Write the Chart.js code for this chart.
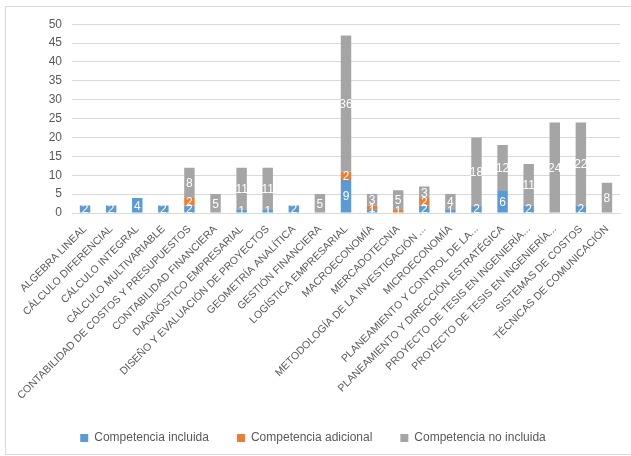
<!DOCTYPE html>
<html>
<head>
<meta charset="utf-8">
<script src="https://cdn.jsdelivr.net/npm/chart.js@4/dist/chart.umd.min.js"></script>
<style>
  body { margin: 0; background: #fff; }
  #box { position: absolute; left: 5px; top: 6px; width: 630px; height: 447px; border: 1px solid #d9d9d9; }
</style>
</head>
<body>
<div id="box"><canvas id="compChart" width="630" height="447"></canvas></div>
<script>
var cursos = ["ALGEBRA LINEAL", "CÁLCULO DIFERENCIAL", "CÁLCULO INTEGRAL", "CÁLCULO MULTIVARIABLE",
  "CONTABILIDAD DE COSTOS Y PRESUPUESTOS", "CONTABILIDAD FINANCIERA", "DIAGNÓSTICO EMPRESARIAL",
  "DISEÑO Y EVALUACIÓN DE PROYECTOS", "GEOMETRÍA ANALÍTICA", "GESTIÓN FINANCIERA", "LOGÍSTICA EMPRESARIAL",
  "MACROECONOMÍA", "MERCADOTECNIA", "METODOLOGÍA DE LA INVESTIGACIÓN ...", "MICROECONOMÍA",
  "PLANEAMIENTO Y CONTROL DE LA...", "PLANEAMIENTO Y DIRECCIÓN ESTRATÉGICA", "PROYECTO DE TESIS EN INGENIERÍA...",
  "PROYECTO DE TESIS EN INGENIERÍA...", "SISTEMAS DE COSTOS", "TÉCNICAS DE COMUNICACIÓN"];
var incluida   = [2, 2, 4, 2, 2, 0, 1, 1, 2, 0, 9, 1, 0, 2, 1, 2, 6, 2, 0, 2, 0];
var adicional  = [0, 0, 0, 0, 2, 0, 0, 0, 0, 0, 2, 1, 1, 2, 0, 0, 0, 0, 0, 0, 0];
var noIncluida = [0, 0, 0, 0, 8, 5, 11, 11, 0, 5, 36, 3, 5, 3, 4, 18, 12, 11, 24, 22, 8];
var yTicks = [0, 5, 10, 15, 20, 25, 30, 35, 40, 45, 50];

var fontFam = "'Liberation Sans', Arial, sans-serif";

// etiquetas blancas al centro de cada segmento
var valueLabels = {
  id: 'valueLabels',
  afterDatasetsDraw: function (chart) {
    var ctx = chart.ctx;
    ctx.save();
    ctx.beginPath();
    ctx.rect(chart.chartArea.left, 0, chart.chartArea.width, chart.chartArea.bottom);
    ctx.clip();
    ctx.fillStyle = '#ffffff';
    ctx.font = '12px ' + fontFam;
    ctx.textAlign = 'center';
    ctx.textBaseline = 'middle';
    chart.data.datasets.forEach(function (ds, i) {
      chart.getDatasetMeta(i).data.forEach(function (bar, j) {
        var v = ds.data[j];
        if (!v) return;
        ctx.fillText(v, bar.x, (bar.y + bar.base) / 2 + 1);
      });
    });
    ctx.restore();
  }
};

var ctx = document.getElementById("compChart");
var compChart = new Chart(ctx, {
  type: 'bar',
  data: {
    labels: cursos,
    datasets: [
      { label: 'Competencia incluida', data: incluida, backgroundColor: '#5b9bd5' },
      { label: 'Competencia adicional', data: adicional, backgroundColor: '#ed7d31' },
      { label: 'Competencia no incluida', data: noIncluida, backgroundColor: '#a5a5a5' }
    ]
  },
  plugins: [valueLabels],
  options: {
    responsive: false,
    animation: false,
    datasets: { bar: { barPercentage: 0.4, categoryPercentage: 1 } },
    layout: { padding: { left: 0, right: 16, top: 17, bottom: 0 } },
    plugins: {
      tooltip: { enabled: false },
      legend: {
        position: 'bottom',
        labels: {
          boxWidth: 8, boxHeight: 8, padding: 28,
          color: '#595959',
          font: { family: fontFam, size: 12 }
        }
      }
    },
    scales: {
      x: {
        stacked: true,
        grid: { display: false },
        border: { color: '#d9d9d9' },
        ticks: {
          autoSkip: false, minRotation: 45, maxRotation: 45,
          color: '#595959', font: { family: fontFam, size: 10.5 }, padding: 2
        },
        afterFit: function (scale) { scale.height = 191; }
      },
      y: {
        stacked: true,
        min: 0, max: 50,
        afterBuildTicks: function (scale) { scale.ticks = yTicks.map(function (v) { return { value: v }; }); },
        grid: { color: '#d9d9d9', drawTicks: false },
        border: { display: false },
        ticks: { autoSkip: false, color: '#595959', font: { family: fontFam, size: 12 }, padding: 10 },
        afterFit: function (scale) { scale.width = 66; }
      }
    }
  }
});
</script>
</body>
</html>
